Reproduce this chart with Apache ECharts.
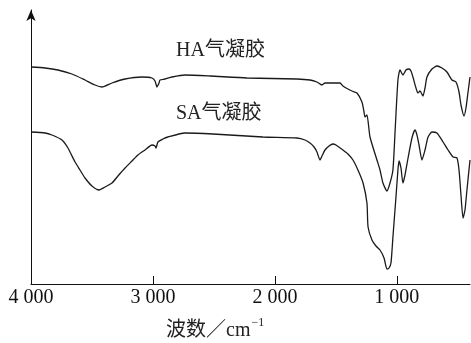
<!DOCTYPE html>
<html>
<head>
<meta charset="utf-8">
<script src="https://cdn.jsdelivr.net/npm/echarts@6/dist/echarts.min.js"></script>
<style>
  html, body { margin: 0; padding: 0; background: #fff; }
  #chart { width: 471px; height: 343px; }
</style>
</head>
<body>
<div id="chart"></div>
<script>
// 波数 (cm^-1) 与相对透过率
const haWavenumber = [4000, 3885, 3779, 3664, 3557, 3475, 3418, 3336, 3229, 3090, 3008, 2983, 2967, 2950, 2942, 2901, 2844, 2737, 2532, 2229, 1819, 1712, 1655, 1630, 1614, 1589, 1466, 1442, 1401, 1368, 1327, 1286, 1269, 1261, 1245, 1220, 1163, 1138, 1114, 1081, 1056, 1032, 1015, 991, 974, 950, 925, 900, 884, 868, 843, 827, 810, 786, 769, 753, 712, 671, 630, 589, 548, 515, 490, 474, 449, 433, 417, 400];
const haValues = [217, 216, 214, 210, 204, 199, 197, 201, 205, 207, 206, 203, 197, 201, 204, 205, 207, 209, 208, 206, 205, 204, 202, 200, 199, 201, 201, 198, 195, 193, 191, 182, 172, 167, 169, 147, 124, 114, 101, 93, 101, 114, 151, 204, 214, 209, 214, 215, 213, 207, 196, 191, 193, 188, 196, 207, 215, 218, 216, 212, 204, 202, 192, 179, 168, 176, 191, 207];

const saWavenumber = [4000, 3885, 3828, 3746, 3697, 3639, 3598, 3557, 3500, 3442, 3393, 3336, 3287, 3229, 3172, 3123, 3065, 3008, 2983, 2975, 2959, 2918, 2877, 2737, 2508, 2098, 1819, 1753, 1712, 1679, 1655, 1630, 1614, 1589, 1556, 1524, 1499, 1442, 1401, 1360, 1319, 1277, 1245, 1236, 1204, 1171, 1138, 1105, 1081, 1064, 1048, 1032, 1007, 991, 982, 966, 950, 933, 908, 876, 851, 835, 818, 794, 769, 744, 712, 671, 621, 580, 539, 507, 490, 474, 457, 441, 425, 400];
const saValues = [152, 151, 149, 144, 136, 122, 114, 106, 98, 94, 97, 101, 108, 116, 123, 129, 134, 139, 138, 136, 142, 145, 147, 151, 150, 147, 146, 144, 141, 137, 132, 124, 128, 134, 138, 140, 139, 134, 130, 124, 114, 101, 81, 57, 44, 38, 34, 26, 15, 16, 21, 47, 87, 114, 123, 116, 101, 109, 126, 146, 154, 149, 139, 124, 134, 147, 152, 151, 142, 134, 127, 126, 114, 89, 66, 74, 94, 124];

const tickValues = [4000, 3000, 2000, 1000];
const tickLabels = ['4 000', '3 000', '2 000', '1 000'];

const haData = haWavenumber.map((w, i) => [w, haValues[i]]);
const saData = saWavenumber.map((w, i) => [w, saValues[i]]);

const serif = '"Liberation Serif", "Noto Sans CJK SC", serif';

var myChart = echarts.init(document.getElementById('chart'));
var option = {
    animation: false,
    grid: {
        left: 31,
        right: 1,
        top: 10,
        bottom: 59,
        outerBoundsMode: 'none'
    },
    xAxis: {
        type: 'value',
        inverse: true,
        min: 400,
        max: 4000,
        splitLine: { show: false },
        axisLine: { lineStyle: { color: '#111', width: 1 } },
        axisTick: {
            inside: true,
            length: 8,
            customValues: tickValues,
            lineStyle: { color: '#111' }
        },
        axisLabel: {
            customValues: tickValues,
            margin: 4,
            color: '#111',
            fontSize: 20,
            fontFamily: serif,
            formatter: (v) => tickLabels[tickValues.indexOf(v)] || ''
        }
    },
    yAxis: {
        type: 'value',
        min: 0,
        max: 274,
        splitLine: { show: false },
        axisTick: { show: false },
        axisLabel: { show: false },
        axisLine: {
            show: true,
            symbol: ['none', 'arrow'],
            symbolSize: [7, 11],
            lineStyle: { color: '#111', width: 1 }
        }
    },
    series: [
        {
            name: 'HA气凝胶',
            type: 'line',
            data: haData,
            showSymbol: false,
            smooth: 0.2,
            lineStyle: { color: '#1a1a1a', width: 1.3 }
        },
        {
            name: 'SA气凝胶',
            type: 'line',
            data: saData,
            showSymbol: false,
            smooth: 0.2,
            lineStyle: { color: '#1a1a1a', width: 1.3 }
        }
    ],
    graphic: [
        {
            type: 'text', left: 176, top: 41,
            style: { text: 'HA气凝胶', font: '20px ' + serif, fill: '#222' }
        },
        {
            type: 'text', left: 176, top: 104,
            style: { text: 'SA气凝胶', font: '20px ' + serif, fill: '#222' }
        },
        {
            type: 'text', left: 166, top: 317,
            style: {
                text: '{a|波数／cm}{b|−1}',
                rich: {
                    a: { fontSize: 20, fontFamily: serif, fill: '#222', verticalAlign: 'bottom' },
                    b: { fontSize: 12, fontFamily: serif, fill: '#222', verticalAlign: 'top', padding: [0, 0, 12, 1] }
                }
            }
        }
    ]
};
option && myChart.setOption(option);
</script>
</body>
</html>
